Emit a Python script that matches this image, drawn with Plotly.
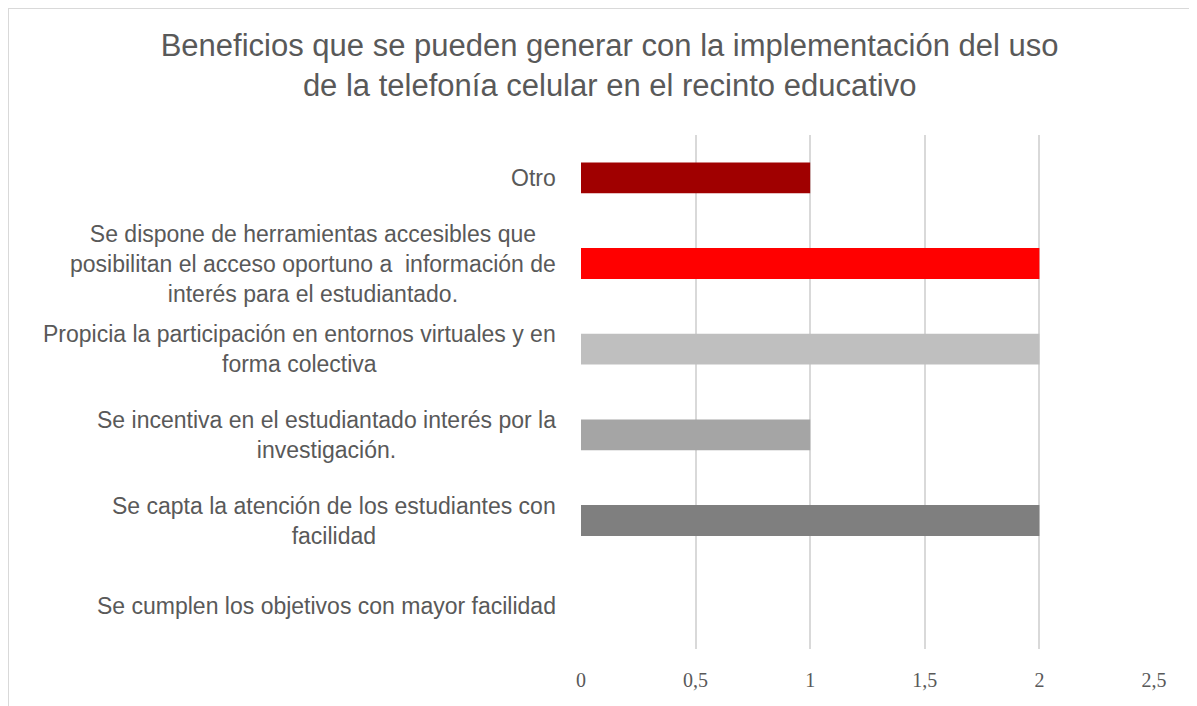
import plotly.graph_objects as go

# categorias de abajo hacia arriba (orden de Excel)
categorias = [
    "Se cumplen los objetivos con mayor facilidad",
    "Se capta la atención de los estudiantes con<br>facilidad",
    "Se incentiva en el estudiantado interés por la<br>investigación.",
    "Propicia la participación en entornos virtuales y en<br>forma colectiva",
    "Se dispone de herramientas accesibles que<br>posibilitan el acceso oportuno a  información de<br>interés para el estudiantado.",
    "Otro",
]
valores = [0, 2, 1, 2, 2, 1]
colores = ["#7F7F7F", "#7F7F7F", "#A5A5A5", "#BFBFBF", "#FF0000", "#A00000"]

tick_vals = [0, 0.5, 1, 1.5, 2, 2.5]
tick_text = ["0", "0,5", "1", "1,5", "2", "2,5"]

titulo = ("Beneficios que se pueden generar con la implementación del uso<br>"
          "de la telefonía celular en el recinto educativo")

# la pagina tiene 8px de margen en el body
OFF = 8
W, H = 1197 - OFF, 706 - OFF
ML, MR, MT, MB = 581 - OFF, 43, 135 - OFF, 57
pw, ph = W - ML - MR, H - MT - MB

fig = go.Figure()
fig.add_trace(
    go.Bar(
        x=valores,
        y=categorias,
        orientation="h",
        marker=dict(color=colores, line=dict(width=0)),
        hoverinfo="x",
    )
)

# etiquetas de categoria: bloque alineado a la derecha, lineas centradas
for cat in categorias:
    fig.add_annotation(
        x=0, xref="paper", xanchor="right", xshift=-23,
        y=cat, yref="y", yanchor="middle",
        text=cat, align="center", showarrow=False,
        font=dict(family="Liberation Sans, Arial", size=23, color="#595959"),
    )

# borde del area del grafico (solo arriba e izquierda visibles)
bx = (0 - ML) / pw
by_top = (H - MB - 0) / ph
by_bot = (H - MB - H - 5) / ph
fig.add_shape(type="line", xref="paper", yref="paper",
              x0=bx, x1=(W + 5 - ML) / pw, y0=by_top, y1=by_top,
              line=dict(color="#D9D9D9", width=2))
fig.add_shape(type="line", xref="paper", yref="paper",
              x0=bx, x1=bx, y0=by_top, y1=by_bot,
              line=dict(color="#D9D9D9", width=2))

fig.update_layout(
    width=W,
    height=H,
    margin=dict(l=ML, r=MR, t=MT, b=MB),
    title=dict(
        text=titulo,
        x=0.506, xanchor="center", xref="container",
        y=1 - (56 - OFF) / H, yanchor="middle", yref="container",
        font=dict(family="Liberation Sans, Arial", size=31, color="#595959"),
    ),
    bargap=0.64,
    showlegend=False,
    plot_bgcolor="white",
    paper_bgcolor="white",
    xaxis=dict(
        range=[0, 2.5],
        tickvals=tick_vals,
        ticktext=tick_text,
        showgrid=True,
        gridcolor="#D9D9D9",
        gridwidth=1.5,
        zeroline=False,
        showline=False,
        ticks="",
        ticklabelstandoff=17,
        tickfont=dict(family="Liberation Serif, DejaVu Serif", size=20, color="#595959"),
    ),
    yaxis=dict(
        showticklabels=False,
        showgrid=False,
        zeroline=False,
        showline=False,
        ticks="",
    ),
)

fig.write_html("out.html")
